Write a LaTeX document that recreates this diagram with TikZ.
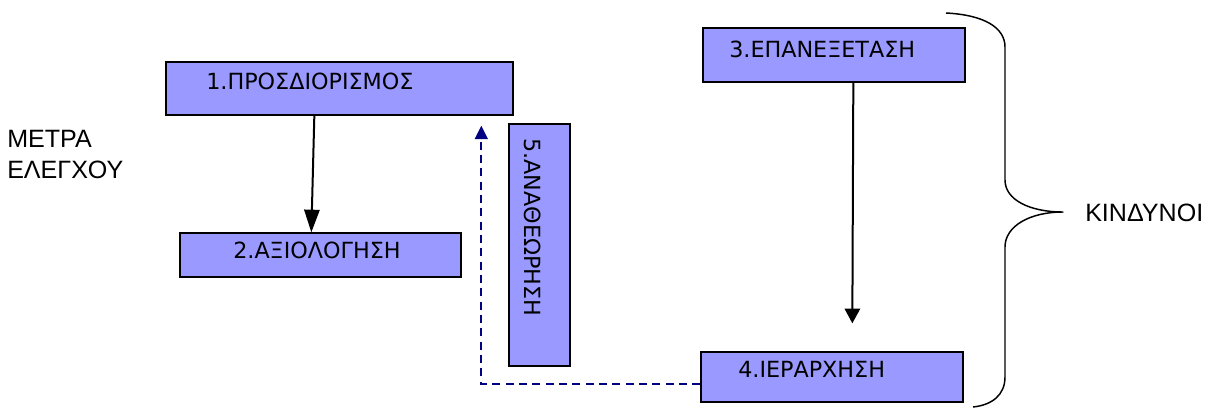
\documentclass[tikz,border=0pt]{standalone}
\usepackage{fontspec}
\setmainfont{Liberation Sans}
\newfontfamily\boxfont{DejaVu Sans}
\usetikzlibrary{arrows.meta,calc,fit}
\definecolor{stepfill}{RGB}{153,153,255}
\definecolor{backlink}{RGB}{0,0,128}
\begin{document}
\begin{tikzpicture}[x=0.75pt,y=-0.75pt,
  box/.style={draw=black, line width=1pt, fill=stepfill, inner sep=0pt},
  boxlabel/.style={font=\boxfont\fontsize{16.7}{19}\selectfont, inner sep=0pt, anchor=base west},
  note/.style={font=\fontsize{18.8}{23.3}\selectfont, inner sep=0pt, align=left},
  flow/.style={line width=1.5pt, draw=black},
  longhead/.style={-{Triangle[length=17pt,width=11.5pt]}},
  shorthead/.style={-{Triangle[length=11pt,width=11.5pt]}},
  review/.style={line width=1.5pt, draw=backlink, dash pattern=on 6pt off 4pt,
    -{Triangle[length=10pt,width=9.5pt]}},
  bracket/.style={line width=1.1pt, draw=black, line join=round}
]
\useasboundingbox (0,0) rectangle (1211,408);

% process boxes
\node[box, fit={(166,62) (513,115)}] (p1) {};
\node[boxlabel] (t1) at (206,89) {1.ΠΡΟΣΔΙΟΡΙΣΜΟΣ};

\node[box, fit={(180,233) (461,277)}] (p2) {};
\node[boxlabel] (t2) at (233,258) {2.ΑΞΙΟΛΟΓΗΣΗ};

\node[box, fit={(703,28) (965,82)}] (p3) {};
\node[boxlabel] (t3) at (729,57) {3.ΕΠΑΝΕΞΕΤΑΣΗ};

\node[box, fit={(701,352) (963,402)}] (p4) {};
\node[boxlabel] (t4) at (738,377) {4.ΙΕΡΑΡΧΗΣΗ};

\node[box, fit={(509,124) (570,366)}] (p5) {};
\node[boxlabel, rotate=-90] (t5) at (524,138) {5.ΑΝΑΘΕΩΡΗΣΗ};

% side labels
\node[note, anchor=north west] (controls) at (7,130) {ΜΕΤΡΑ\\ΕΛΕΓΧΟΥ};
\node[note, anchor=base west] (risks) at (1085,221) {ΚΙΝΔΥΝΟΙ};

% flow arrows
\draw[flow, longhead] ($(p1.south west)+(149,0)$) -- ($(p2.north west)+(132,0)$);
\coordinate (p4top) at ($(p4.north west)+(152,-28)$);
\draw[flow, shorthead] ($(p3.south west)+(151,0)$) -- (p4top);

% review loop back towards step 1
\coordinate (backtip) at ($(p1.south west)+(316,10)$);
\draw[review] ($(p4.west)+(0,7)$) -| (backtip);

% brace grouping the risk steps
\draw[bracket] (946,13) .. controls (985,15) and (1005,28) .. (1005,47)
  -- (1005,180) .. controls (1005,200) and (1030,212) .. (1063,212)
  .. controls (1030,212) and (1005,226) .. (1005,247)
  -- (1005,377) .. controls (1005,395) and (992,405) .. (973,407);
\end{tikzpicture}
\end{document}
